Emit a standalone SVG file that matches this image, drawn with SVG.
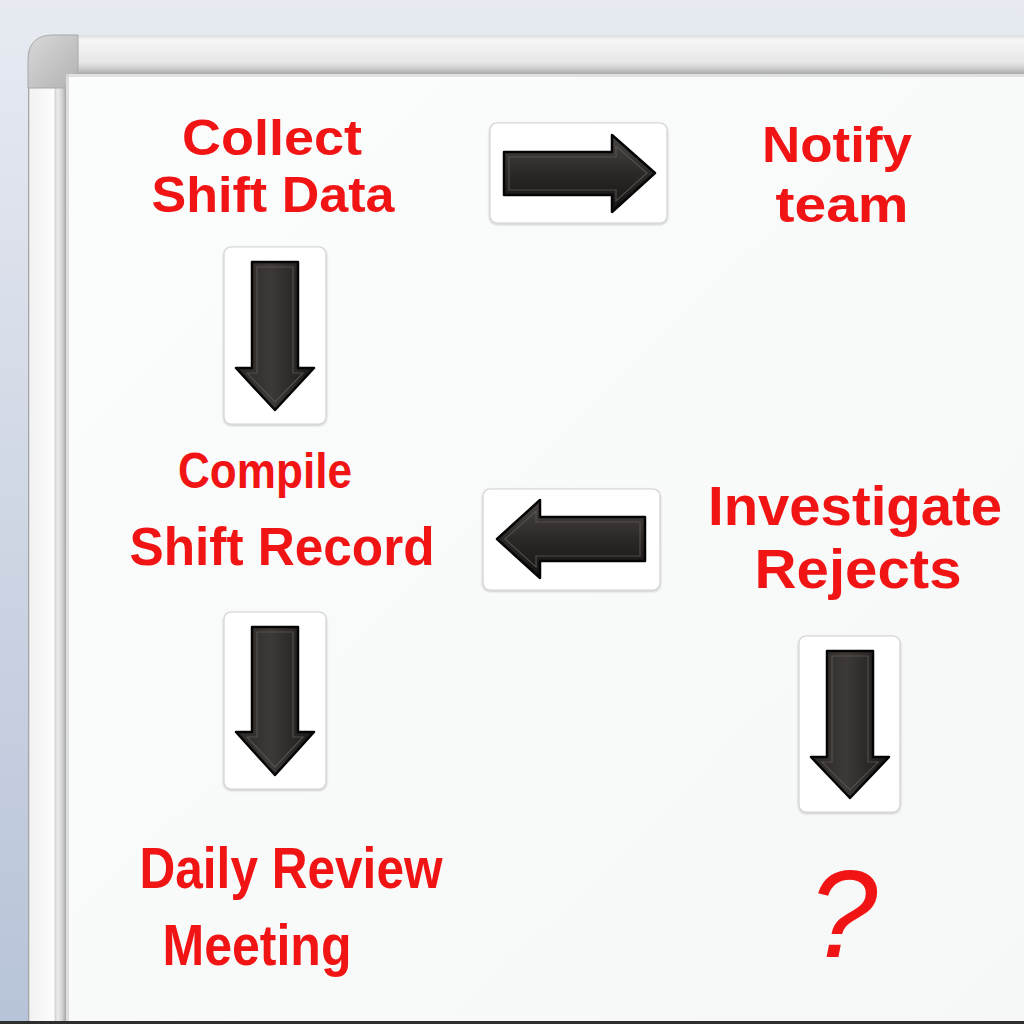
<svg xmlns="http://www.w3.org/2000/svg" width="1024" height="1024" viewBox="0 0 1024 1024">
<defs>
<linearGradient id="bg" x1="0" y1="0" x2="0" y2="1"><stop offset="0" stop-color="#e7eaf1"/><stop offset="1" stop-color="#b7c3d8"/></linearGradient>
<linearGradient id="topbar" x1="0" y1="0" x2="0" y2="1"><stop offset="0" stop-color="#dcdcdc"/><stop offset="0.12" stop-color="#f6f6f6"/><stop offset="0.7" stop-color="#e6e6e6"/><stop offset="0.85" stop-color="#d0d0d0"/><stop offset="1" stop-color="#a9a9a9"/></linearGradient>
<linearGradient id="leftbar" x1="28" y1="0" x2="66" y2="0" gradientUnits="userSpaceOnUse"><stop offset="0" stop-color="#8a8a8a"/><stop offset="0.05" stop-color="#f2f2f2"/><stop offset="0.68" stop-color="#fcfcfc"/><stop offset="0.72" stop-color="#d4d4d4"/><stop offset="0.78" stop-color="#ececec"/><stop offset="0.9" stop-color="#d2d2d2"/><stop offset="1" stop-color="#a8a8a8"/></linearGradient>
<linearGradient id="corner" x1="0" y1="0" x2="1" y2="1"><stop offset="0" stop-color="#d8d8d8"/><stop offset="1" stop-color="#b2b2b2"/></linearGradient>
<linearGradient id="board" x1="0" y1="0" x2="1" y2="1"><stop offset="0" stop-color="#fbfcfc"/><stop offset="1" stop-color="#f6f7f7"/></linearGradient>
<linearGradient id="arrH" x1="0" y1="0" x2="0" y2="1"><stop offset="0" stop-color="#4a4644"/><stop offset="0.5" stop-color="#2b2826"/><stop offset="1" stop-color="#151312"/></linearGradient>
<linearGradient id="arrV" x1="0" y1="0" x2="1" y2="0"><stop offset="0" stop-color="#2a2725"/><stop offset="0.45" stop-color="#3d3937"/><stop offset="1" stop-color="#1a1817"/></linearGradient>
<filter id="sh" x="-10%" y="-10%" width="120%" height="120%"><feDropShadow dx="0" dy="1" stdDeviation="1.2" flood-color="#000" flood-opacity="0.25"/></filter>
</defs>
<style>
.card{fill:#ffffff;stroke:#d2d2d2;stroke-width:1.2;filter:url(#sh)}
.ah{fill:url(#arrH);stroke:#050505;stroke-width:2.5;stroke-linejoin:round}
.av{fill:url(#arrV);stroke:#050505;stroke-width:2.5;stroke-linejoin:round}
.bev{fill:none;stroke:#5a5654;stroke-width:1.2;opacity:0.8}
.t{font-family:"Liberation Sans","Arial",sans-serif;font-weight:700;fill:#f01414;text-anchor:middle}
.q{font-weight:400;font-style:italic}
</style>
<rect width="1024" height="1024" fill="url(#bg)"/>
<!-- frame -->
<path d="M28 1024 V58 Q28 35 51 35 H1024 V1024 Z" fill="url(#leftbar)"/>
<rect x="60" y="35" width="964" height="39" fill="url(#topbar)"/>
<path d="M28 88 V60 Q28 35 53 35 H78 V68 Q78 74 72 77 Q66 80 66 88 Z" fill="url(#corner)" stroke="#a8a8a8" stroke-width="1"/>
<rect x="66" y="74" width="958" height="950" fill="url(#board)"/>
<rect x="66" y="74" width="958" height="3" fill="#d6d6d6" opacity="0.7"/>
<rect x="66" y="74" width="3" height="950" fill="#d0d0d0" opacity="0.7"/>
<rect x="0" y="1021" width="1024" height="3" fill="#2e2e2e"/>
<!-- nodes -->
<g id="collect"><text class="t" font-size="50" x="272" y="155" textLength="180" lengthAdjust="spacingAndGlyphs">Collect</text><text class="t" font-size="50" x="273" y="212" textLength="243" lengthAdjust="spacingAndGlyphs">Shift Data</text></g>
<g id="notify"><text class="t" font-size="50" x="837" y="162" textLength="150" lengthAdjust="spacingAndGlyphs">Notify</text><text class="t" font-size="50" x="842" y="222" textLength="133" lengthAdjust="spacingAndGlyphs">team</text></g>
<g id="compile"><text class="t" font-size="50" x="265" y="488" textLength="174" lengthAdjust="spacingAndGlyphs">Compile</text><text class="t" font-size="54" x="282" y="565" textLength="305" lengthAdjust="spacingAndGlyphs">Shift Record</text></g>
<g id="investigate"><text class="t" font-size="55" x="855" y="525" textLength="294" lengthAdjust="spacingAndGlyphs">Investigate</text><text class="t" font-size="55" x="858" y="588" textLength="207" lengthAdjust="spacingAndGlyphs">Rejects</text></g>
<g id="review"><text class="t" font-size="58" x="291" y="888" textLength="303" lengthAdjust="spacingAndGlyphs">Daily Review</text><text class="t" font-size="58" x="257" y="965" textLength="189" lengthAdjust="spacingAndGlyphs">Meeting</text></g>
<g id="unknown"><text class="t q" font-size="124" x="843" y="957">?</text></g>
<!-- connectors (arrow magnets) -->
<g id="connectors">
<g id="c1"><rect class="card" x="490" y="123" width="177" height="100" rx="7"/><path class="ah" d="M504 152 H612 V135 L655 173 L612 212 V195 H504 Z"/><path class="bev" d="M509 157 H616 V146 L647 173 L616 201 V190 H509 Z"/></g>
<g id="c2"><rect class="card" x="224" y="247" width="102" height="177" rx="7"/><path class="av" d="M252 262 H298 V368 H314 L275 410 L236 368 H252 Z"/><path class="bev" d="M257 267 H293 V373 H303 L275 402 L247 373 H257 Z"/></g>
<g id="c3"><rect class="card" x="483" y="489" width="177" height="101" rx="7"/><path class="ah" d="M645 517 H540 V500 L497 539 L540 578 V561 H645 Z"/><path class="bev" d="M640 522 H536 V511 L505 539 L536 567 V556 H640 Z"/></g>
<g id="c4"><rect class="card" x="224" y="612" width="102" height="177" rx="7"/><path class="av" d="M252 627 H298 V732 H314 L275 775 L236 732 H252 Z"/><path class="bev" d="M257 632 H293 V737 H303 L275 767 L247 737 H257 Z"/></g>
<g id="c5"><rect class="card" x="799" y="636" width="101" height="176" rx="7"/><path class="av" d="M827 651 H873 V757 H889 L850 798 L811 757 H827 Z"/><path class="bev" d="M832 656 H868 V762 H878 L850 790 L822 762 H832 Z"/></g>
</g>
</svg>
